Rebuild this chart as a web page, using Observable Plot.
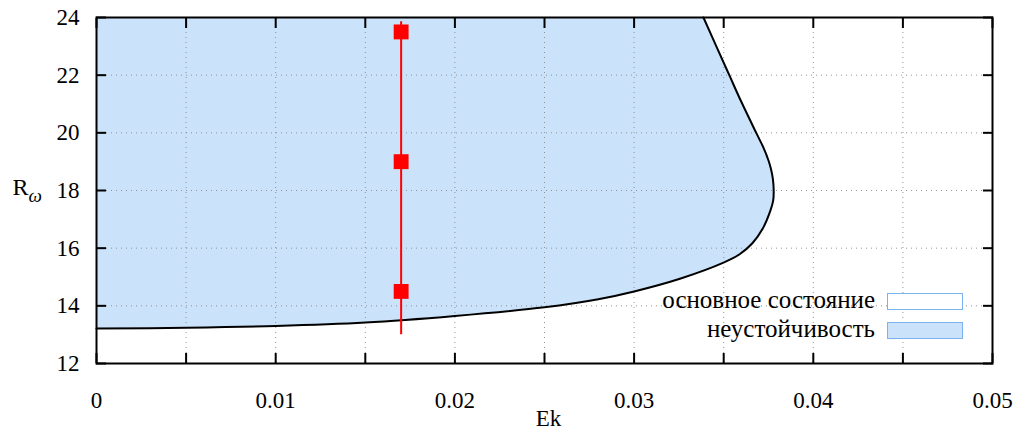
<!DOCTYPE html>
<html><head><meta charset="utf-8">
<script src="https://cdn.jsdelivr.net/npm/d3@7"></script>
<script src="https://cdn.jsdelivr.net/npm/@observablehq/plot@0.6"></script>
<style>
body{margin:0;background:#fff;}
#wrap{position:relative;width:1016px;height:430px;font-family:"Liberation Serif","Times New Roman",Times,serif;color:#000;}
.lt{position:absolute;right:141px;font-size:25px;line-height:25px;text-align:right;white-space:nowrap;}
.lb{position:absolute;left:887px;width:74px;height:15px;border:1.5px solid #7ab3f2;}
</style></head><body><div id="wrap"></div>
<script>
// stability boundary (Ek, Rω), ordered by Rω
const boundaryEk = [0, 0.005, 0.01, 0.015, 0.02, 0.025, 0.028, 0.030, 0.0326, 0.03499, 0.03587, 0.0366, 0.03718, 0.03761, 0.03776, 0.03779, 0.03774, 0.03763, 0.0375, 0.0372, 0.03683, 0.03595, 0.03532, 0.03469, 0.03387];
const boundaryR  = [13.21, 13.24, 13.30, 13.42, 13.65, 13.95, 14.23, 14.5, 14.95, 15.50, 15.78, 16.17, 16.68, 17.31, 17.65, 18.0, 18.42, 18.76, 19.04, 19.51, 19.98, 21.12, 21.99, 22.86, 24];
// red markers
const markerEk = [0.017, 0.017, 0.017];
const markerR  = [14.5, 19, 23.5];
const lineEk = [0.017];
const lineR1 = [13];
const lineR2 = [23.85];
// ticks
const xTicks = [0, 0.005, 0.01, 0.015, 0.02, 0.025, 0.03, 0.035, 0.04, 0.045, 0.05];
const xGrid = [0.005, 0.01, 0.015, 0.02, 0.025, 0.03, 0.035, 0.04, 0.045];
const xLabels = [0, 0.01, 0.02, 0.03, 0.04, 0.05];
const yTicks = [12, 14, 16, 18, 20, 22, 24];
const yGrid = [14, 16, 18, 20, 22];
const legendLabels = ["основное состояние", "неустойчивость"];
const legendFills = ["#ffffff", "#cae3fb"];

const FONT = "'Liberation Serif', 'Times New Roman', Times, serif";
const boundary = boundaryEk.map((e, i) => ({Ek: e, R: boundaryR[i]}));
const markers = markerEk.map((e, i) => ({Ek: e, R: markerR[i]}));
const redLine = lineEk.map((e, i) => ({Ek: e, R1: lineR1[i], R2: lineR2[i]}));

const plot = Plot.plot({
  width: 1016, height: 430,
  marginLeft: 96, marginRight: 24, marginTop: 17, marginBottom: 67,
  style: {fontFamily: FONT, fontSize: "23px", background: "white", color: "black"},
  x: {domain: [0, 0.05], label: null},
  y: {domain: [12, 24], label: null},
  marks: [
    Plot.areaX(boundary, {y: "R", x1: 0, x2: "Ek", curve: "catmull-rom", fill: legendFills[1]}),
    Plot.gridX(xGrid, {stroke: "#888", strokeOpacity: 0.9, strokeDasharray: "1,4"}),
    Plot.gridY(yGrid, {stroke: "#888", strokeOpacity: 0.9, strokeDasharray: "1,4"}),
    Plot.axisX(xTicks, {anchor: "bottom", tickSize: -10, strokeWidth: 2, text: null, label: null}),
    Plot.axisX(xTicks, {anchor: "top", tickSize: -10, strokeWidth: 2, text: null, label: null}),
    Plot.axisY(yTicks, {anchor: "left", tickSize: -10, strokeWidth: 2, text: null, label: null}),
    Plot.axisY(yTicks, {anchor: "right", tickSize: -10, strokeWidth: 2, text: null, label: null}),
    Plot.axisX(xLabels, {anchor: "bottom", tickSize: 0, tickPadding: 28, tickFormat: d => String(d), label: null, fontSize: 23, fontFamily: FONT}),
    Plot.axisY(yTicks, {anchor: "left", tickSize: 0, tickPadding: 17, tickFormat: d => String(d), label: null, fontSize: 23, fontFamily: FONT}),
    Plot.line(boundary, {x: "Ek", y: "R", curve: "catmull-rom", stroke: "black", strokeWidth: 2}),
    Plot.ruleX(redLine, {x: "Ek", y1: "R1", y2: "R2", stroke: "#ff0000", strokeWidth: 2}),
    Plot.dot(markers, {x: "Ek", y: "R", symbol: "square", r: 8.4, fill: "#ff0000", stroke: "none"}),
    Plot.frame({stroke: "black", strokeWidth: 2}),
    Plot.text(["Ek"], {frameAnchor: "bottom", dx: 4, dy: 55, lineAnchor: "middle", fontSize: 23, fontFamily: FONT}),
    Plot.text(["R"], {frameAnchor: "left", dx: -84, dy: -3, lineAnchor: "middle", textAnchor: "start", fontSize: 24, fontFamily: FONT}),
    Plot.text(["ω"], {frameAnchor: "left", dx: -68, dy: 5, lineAnchor: "middle", textAnchor: "start", fontSize: 19, fontStyle: "italic", fontFamily: FONT})
  ]
});
const wrap = document.getElementById("wrap");
wrap.appendChild(plot);
const legTops = [287, 316];
const boxTops = [293, 322];
legendLabels.forEach((lab, i) => {
  const t = document.createElement("div");
  t.className = "lt"; t.style.top = legTops[i] + "px"; t.textContent = lab;
  wrap.appendChild(t);
  const b = document.createElement("div");
  b.className = "lb"; b.style.top = boxTops[i] + "px"; b.style.background = legendFills[i];
  wrap.appendChild(b);
});
</script></body></html>
